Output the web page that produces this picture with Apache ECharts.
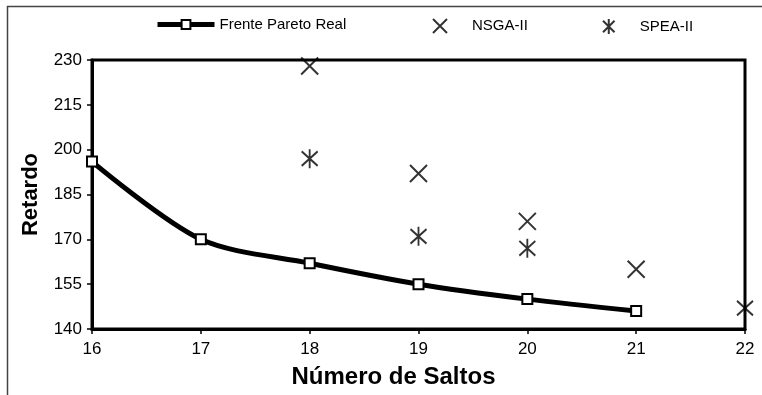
<!DOCTYPE html>
<html>
<head>
<meta charset="utf-8">
<script src="https://cdn.jsdelivr.net/npm/echarts@6/dist/echarts.min.js"></script>
<style>
html,body{margin:0;padding:0;background:#fff;}
#chart{width:762px;height:395px;}
</style>
</head>
<body>
<div id="chart"></div>
<script>
var paretoX = [16, 17, 18, 19, 20, 21];
var paretoY = [196, 170, 162, 155, 150, 146];
var nsgaX = [18, 19, 20, 21];
var nsgaY = [228, 192, 176, 160];
var speaX = [18, 19, 20, 22];
var speaY = [197, 171, 167, 147];
var yTicks = [140, 155, 170, 185, 200, 215, 230];
var xTicks = [16, 17, 18, 19, 20, 21, 22];

function pairs(xs, ys) { return xs.map(function (x, i) { return [x, ys[i]]; }); }

var FONT = '"Liberation Sans", Arial, sans-serif';
var xSym = 'path://M0,0L10,10M10,0L0,10';
var aSym = 'path://M0,0L10,10M10,0L0,10M5,-1.5L5,11.5';

var chart = echarts.init(document.getElementById('chart'), null, {renderer: 'canvas'});
chart.setOption({
  animation: false,
  backgroundColor: '#fff',
  graphic: [{
    type: 'rect', left: 5, top: 4,
    shape: {x: 0, y: 0, width: 800, height: 420},
    style: {fill: 'none', stroke: '#444', lineWidth: 1.5}
  }],
  grid: {left: 92, right: 17, top: 60, bottom: 66, show: true, borderColor: '#000', borderWidth: 3, backgroundColor: 'transparent'},
  legend: [
    {data: [{name: 'Frente Pareto Real'}], left: 155, top: 17, padding: 0, itemWidth: 57, itemHeight: 11,
     lineStyle: {width: 5, color: '#000'},
     textStyle: {fontFamily: FONT, fontSize: 15, color: '#000'}},
    {data: [{name: 'NSGA-II', icon: xSym}], left: 432, top: 18, padding: 0, itemWidth: 14, itemHeight: 15,
     itemStyle: {color: 'transparent', borderColor: '#000', borderWidth: 2},
     textStyle: {fontFamily: FONT, fontSize: 15, color: '#000', padding: [0, 0, 0, 20]}},
    {data: [{name: 'SPEA-II', icon: aSym}], left: 602, top: 18, padding: 0, itemWidth: 14, itemHeight: 15,
     itemStyle: {color: 'transparent', borderColor: '#000', borderWidth: 2},
     textStyle: {fontFamily: FONT, fontSize: 15, color: '#000', padding: [0, 0, 0, 19]}}
  ],
  xAxis: {
    type: 'value', min: 16, max: 22, interval: 1,
    name: 'Número de Saltos', nameLocation: 'middle', nameGap: 36,
    nameTextStyle: {fontFamily: FONT, fontSize: 24, fontWeight: 'bold', color: '#000', padding: [0, 50, 0, 0]},
    axisLine: {show: true, lineStyle: {color: '#000', width: 3}},
    axisTick: {show: true, length: 5, lineStyle: {color: '#000', width: 1.5}, customValues: xTicks},
    axisLabel: {fontFamily: FONT, fontSize: 17, color: '#000', margin: 12, customValues: xTicks},
    splitLine: {show: false}
  },
  yAxis: {
    type: 'value', min: 140, max: 230,
    name: 'Retardo', nameLocation: 'middle', nameGap: 50,
    nameTextStyle: {fontFamily: FONT, fontSize: 22, fontWeight: 'bold', color: '#000'},
    axisLine: {show: true, lineStyle: {color: '#000', width: 3}},
    axisTick: {show: true, length: 5, lineStyle: {color: '#000', width: 1.5}, customValues: yTicks},
    axisLabel: {fontFamily: FONT, fontSize: 17, color: '#000', margin: 10, customValues: yTicks},
    splitLine: {show: false}
  },
  series: [
    {
      name: 'Frente Pareto Real', type: 'line', data: pairs(paretoX, paretoY),
      smooth: 0.3, symbol: 'rect', symbolSize: 10, showSymbol: true,
      lineStyle: {color: '#000', width: 5},
      itemStyle: {color: '#fff', borderColor: '#000', borderWidth: 2},
      z: 3
    },
    {
      name: 'NSGA-II', type: 'scatter', data: pairs(nsgaX, nsgaY),
      symbol: xSym, symbolSize: 17,
      itemStyle: {color: 'transparent', borderColor: '#000', borderWidth: 2},
      z: 4
    },
    {
      name: 'SPEA-II', type: 'scatter', data: pairs(speaX, speaY),
      symbol: aSym, symbolSize: [16, 19],
      itemStyle: {color: 'transparent', borderColor: '#000', borderWidth: 2},
      z: 4
    }
  ]
});
</script>
</body>
</html>
